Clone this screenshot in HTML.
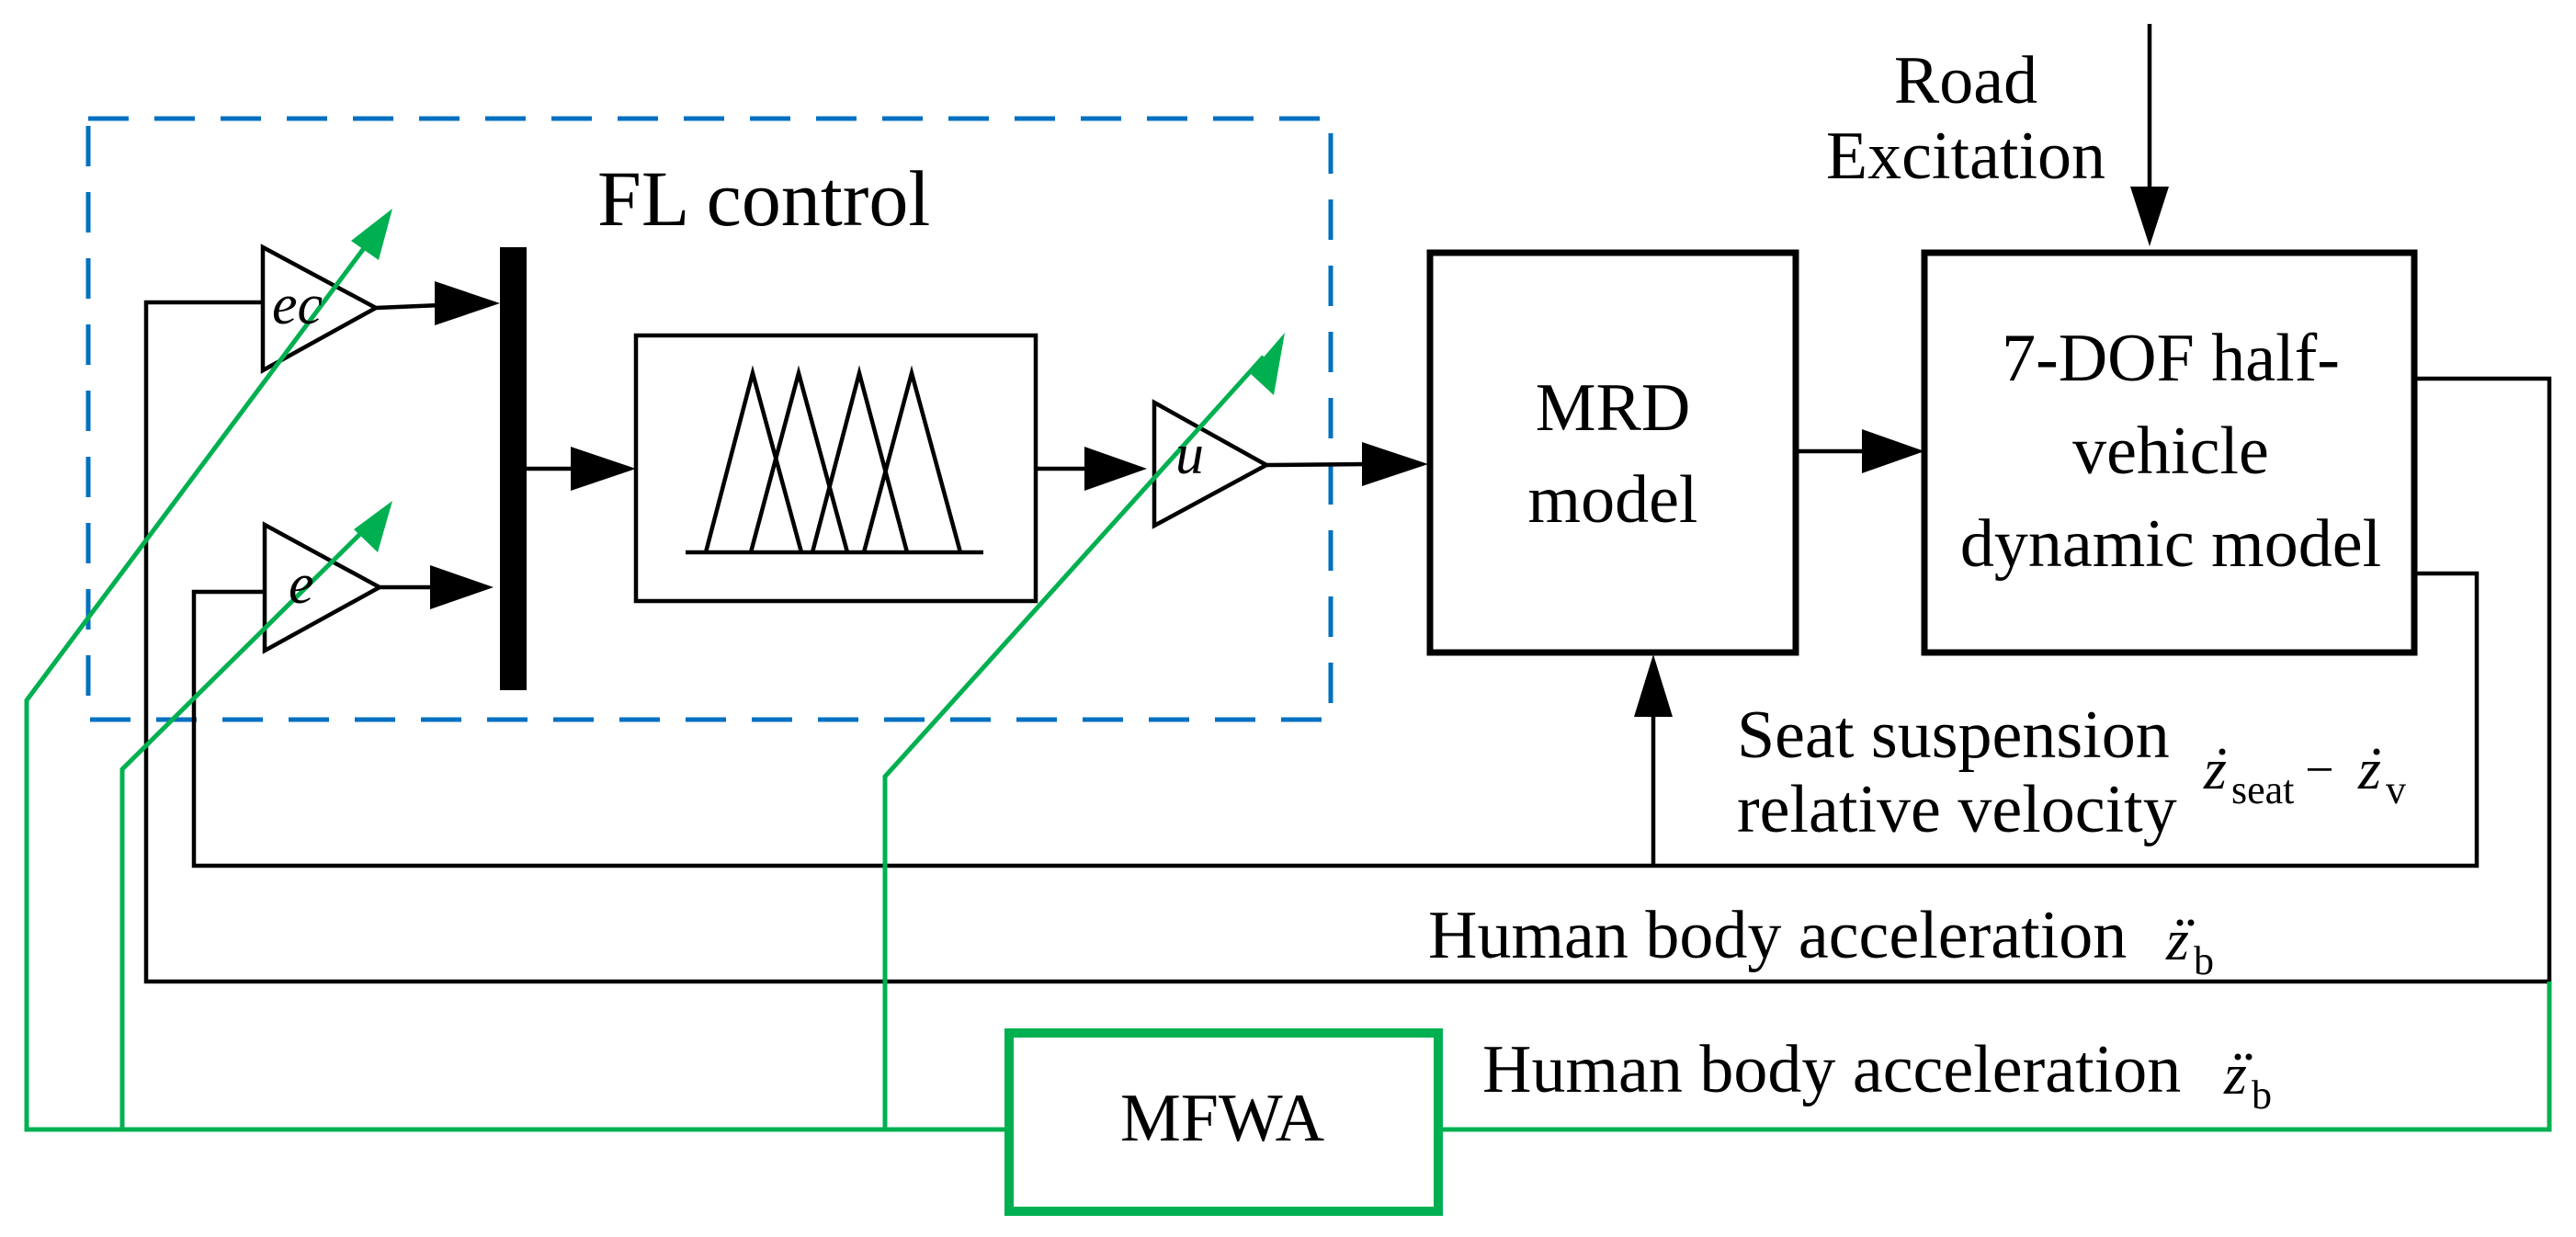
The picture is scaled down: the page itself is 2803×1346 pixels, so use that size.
<!DOCTYPE html>
<html><head><meta charset="utf-8"><style>
html,body{margin:0;padding:0;background:#fff;}
svg{display:block;}
text{font-family:"Liberation Serif",serif;fill:#000;}
</style></head><body>
<svg width="2803" height="1346" viewBox="0 0 2803 1346" xmlns="http://www.w3.org/2000/svg">
<!-- dashed FL box -->
<rect x="96" y="129" width="1352" height="654" fill="none" stroke="#0070C0" stroke-width="5" stroke-dasharray="44,28"/>
<text x="650" y="245" font-size="86">FL control</text>

<g stroke="#000" stroke-width="4.5" fill="none">
<polygon points="286,269 286,403 409,335" fill="#fff"/>
<polygon points="288,571 288,708 413,639" fill="#fff"/>
<polygon points="1256,438 1256,572 1378,506" fill="#fff"/>
<polyline points="286,329 159,329 159,1068 2774,1068 2774,412 2627,412"/>
<polyline points="288,644 211,644 211,942 2695,942 2695,624 2627,624"/>
<line x1="1799" y1="942" x2="1799" y2="775"/>
<line x1="409" y1="335" x2="480" y2="332"/>
<line x1="413" y1="639" x2="480" y2="639"/>
<line x1="573" y1="510" x2="630" y2="510"/>
<line x1="1127" y1="510" x2="1185" y2="510"/>
<line x1="1378" y1="506" x2="1490" y2="505"/>
<line x1="1954" y1="491" x2="2030" y2="491"/>
<line x1="2339" y1="26" x2="2339" y2="205"/>
<rect x="692" y="365" width="435" height="289"/>
<line x1="746" y1="601" x2="1070" y2="601"/>
<polyline points="768,601 819,406 872,601"/>
<polyline points="817,601 869,406 922,601"/>
<polyline points="884,601 935,406 987,601"/>
<polyline points="940,601 992,406 1045,601"/>
</g>
<g fill="#000">
<polygon points="544,330 473,306 473,354"/>
<polygon points="537,639 468,615 468,663"/>
<polygon points="692,510 621,486 621,534"/>
<polygon points="1248,510 1180,486 1180,534"/>
<polygon points="1554,505 1482,481 1482,529"/>
<polygon points="2094,491 2026,467 2026,515"/>
<polygon points="2339,268 2318,203 2360,203"/>
<polygon points="1799,712 1778,780 1820,780"/>
</g>
<rect x="544" y="269" width="29" height="482" fill="#000"/>
<rect x="1556" y="275" width="398" height="435" fill="none" stroke="#000" stroke-width="7"/>
<rect x="2094" y="275" width="533" height="435" fill="none" stroke="#000" stroke-width="7"/>

<g stroke="#00B050" stroke-width="5" fill="none">
<polyline points="1093,1229 29,1229 29,762 405,258"/>
<polyline points="133,1229 133,837 405,568"/>
<polyline points="963,1229 963,845 1375,388"/>
<polyline points="1570,1229 2774,1229 2774,1068"/>
<rect x="1098" y="1124" width="467" height="194" stroke-width="10"/>
</g>
<g fill="#00B050">
<polygon points="427,227 382,262 412,283"/>
<polygon points="427,545 385,576 411,601"/>
<polygon points="1398,362 1360,406 1386,430"/>
</g>

<g font-style="italic" font-size="62">
<text x="296" y="352">ec</text>
<text x="314" y="656">e</text>
<text x="1279" y="515">u</text>
</g>
<g font-size="74" text-anchor="middle">
<text x="2139" y="112">Road</text>
<text x="2139" y="194">Excitation</text>
<text x="1755" y="468">MRD</text>
<text x="1755" y="568">model</text>
<text x="2362" y="414">7-DOF half-</text>
<text x="2362" y="515">vehicle</text>
<text x="2362" y="616">dynamic model</text>
<text x="1330" y="1241">MFWA</text>
</g>
<g font-size="74">
<text x="1890" y="824">Seat suspension</text>
<text x="1890" y="905">relative velocity</text>
<text x="1554" y="1042">Human body acceleration</text>
<text x="1613" y="1188">Human body acceleration</text>
</g>
<g>
<text x="2398" y="858" font-size="64" font-style="italic">z</text>
<circle cx="2418" cy="818" r="3.5" fill="#000"/>
<text x="2428" y="874" font-size="44">seat</text>
<text x="2508" y="856" font-size="56">−</text>
<text x="2566" y="858" font-size="64" font-style="italic">z</text>
<circle cx="2586" cy="818" r="3.5" fill="#000"/>
<text x="2596" y="874" font-size="44">v</text>

<text x="2357" y="1044" font-size="64" font-style="italic">z</text>
<circle cx="2372" cy="1004" r="3.5" fill="#000"/>
<circle cx="2384" cy="1004" r="3.5" fill="#000"/>
<text x="2387" y="1060" font-size="44">b</text>

<text x="2420" y="1190" font-size="64" font-style="italic">z</text>
<circle cx="2435" cy="1150" r="3.5" fill="#000"/>
<circle cx="2447" cy="1150" r="3.5" fill="#000"/>
<text x="2450" y="1206" font-size="44">b</text>
</g>
</svg>
</body></html>
